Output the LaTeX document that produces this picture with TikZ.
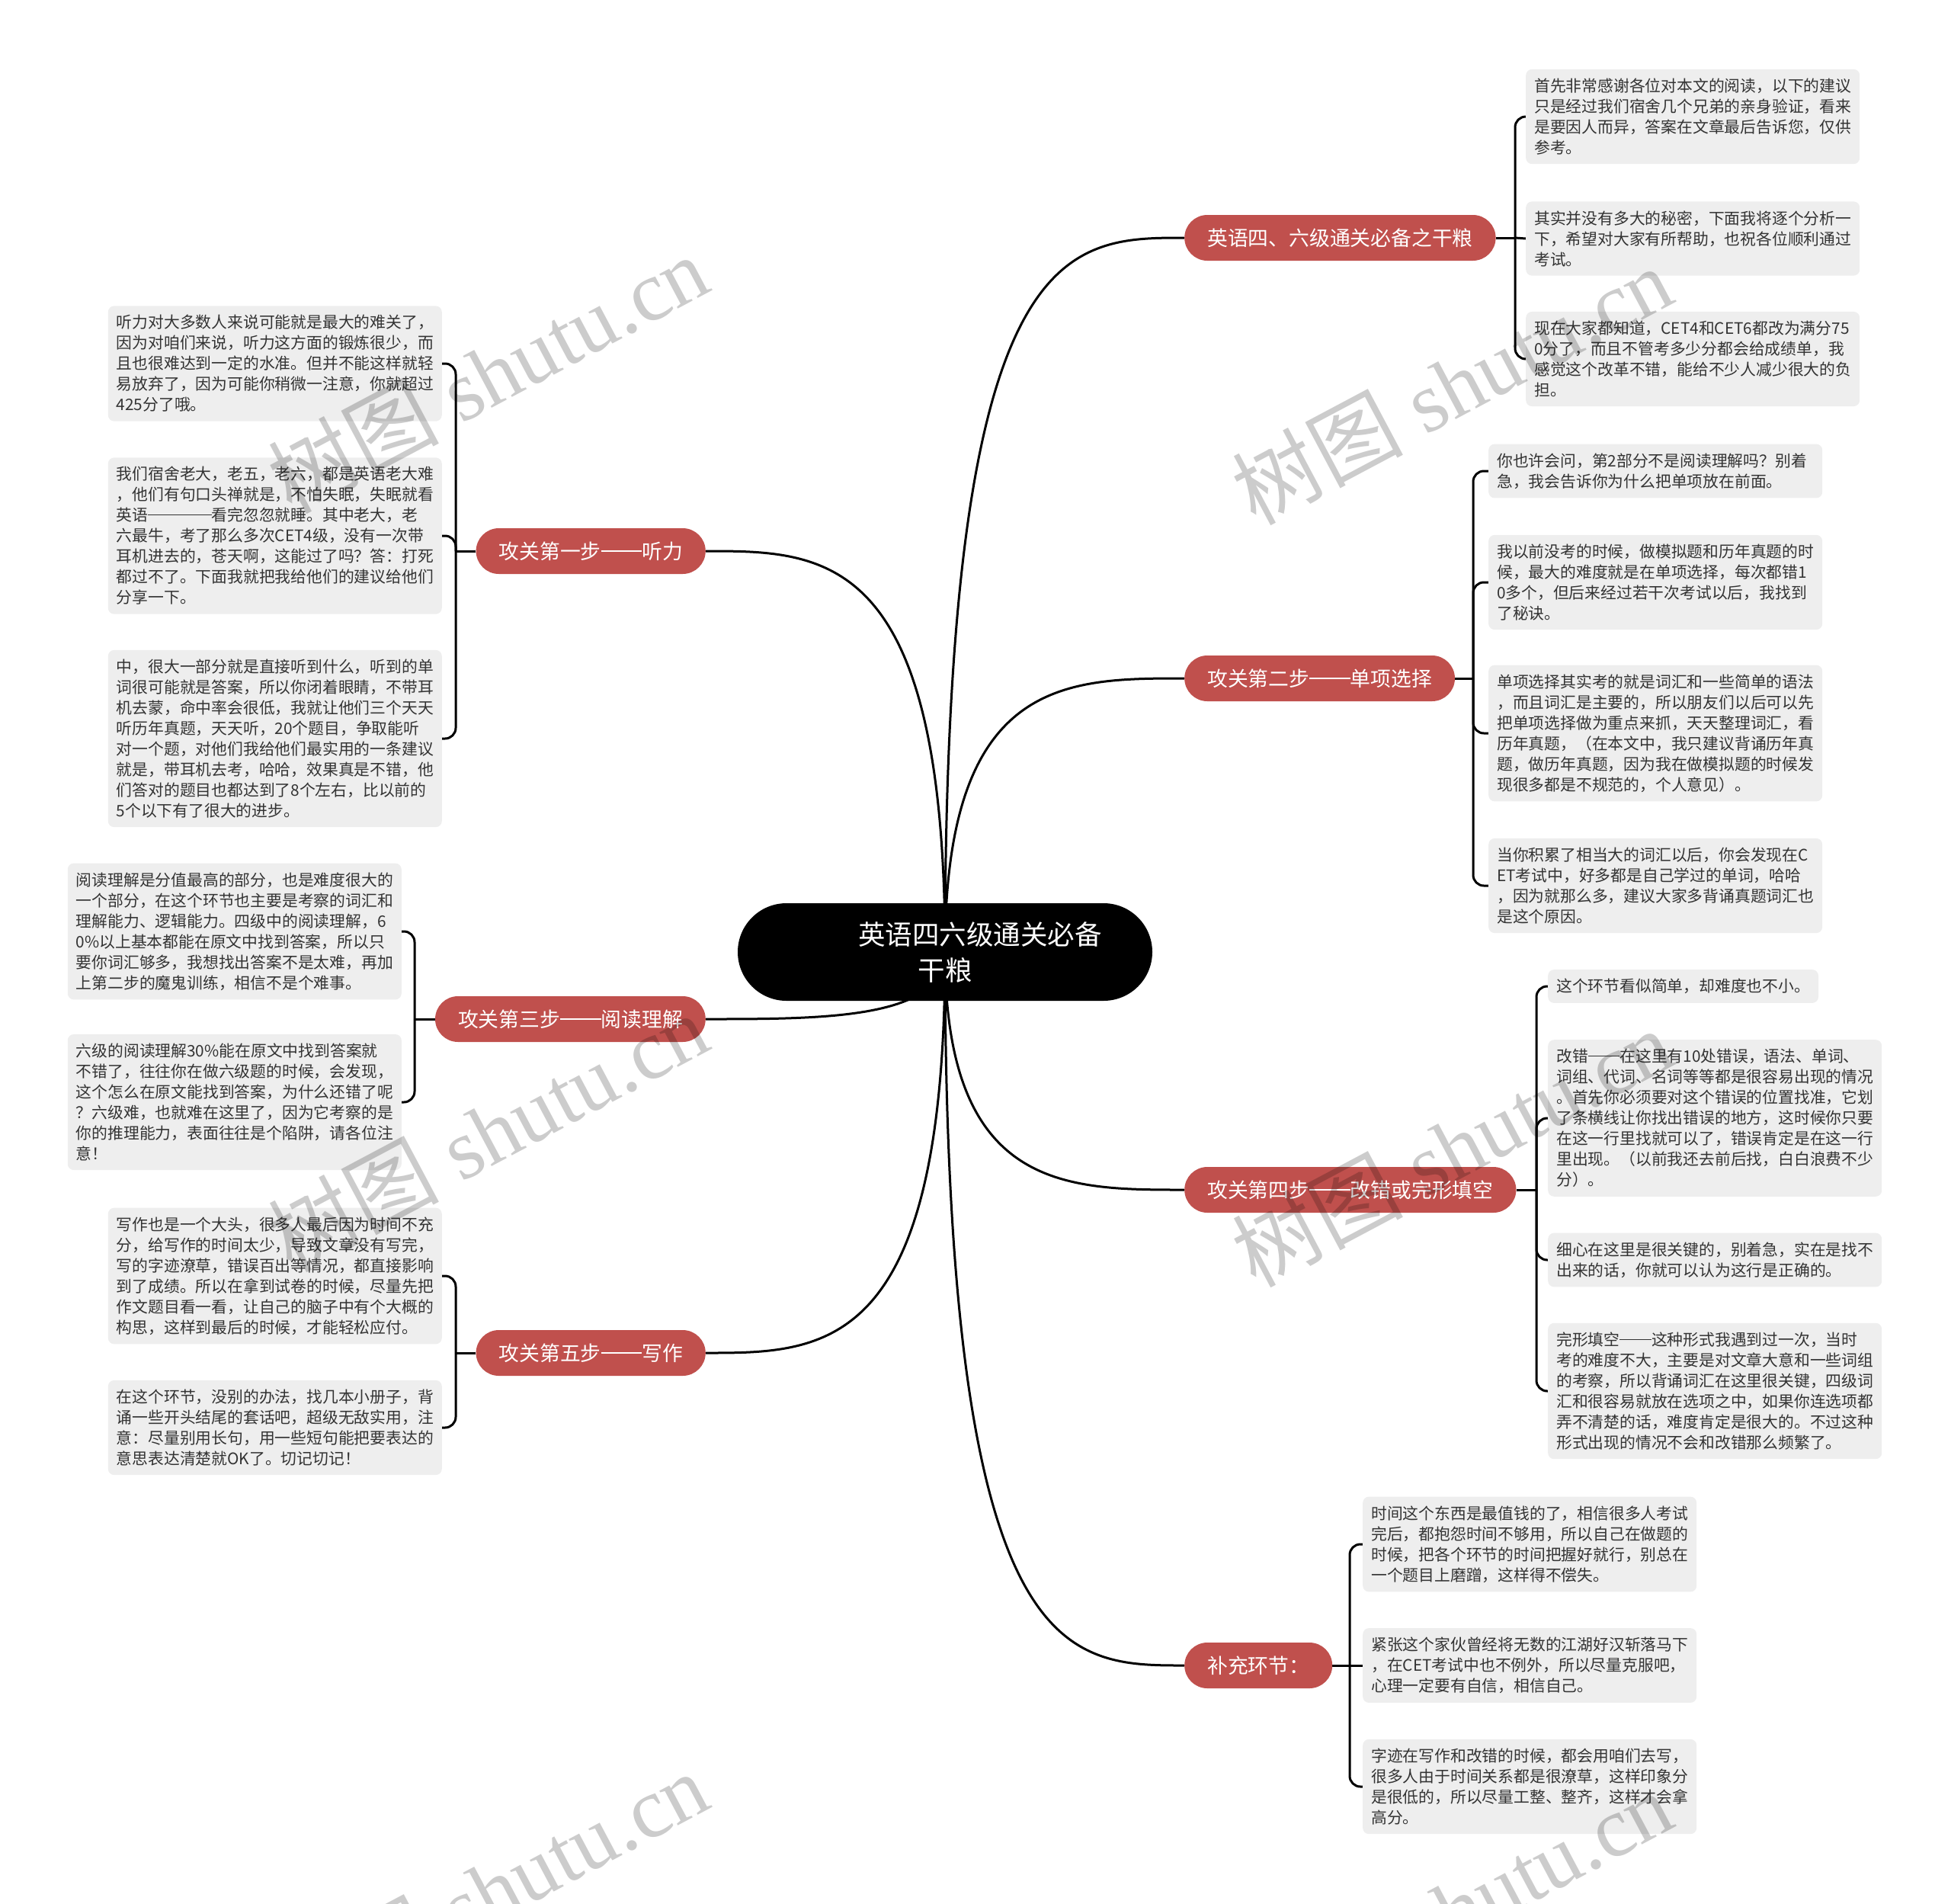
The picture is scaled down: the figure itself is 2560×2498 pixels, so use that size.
\documentclass[tikz,border=0pt]{standalone}
\usepackage{fontspec}
\newfontfamily\cjk{Noto Sans CJK SC}
\newfontfamily\wmserif{Liberation Serif}
\usetikzlibrary{backgrounds,calc}
\definecolor{branchred}{RGB}{192,80,77}
\definecolor{leafgray}{RGB}{238,238,238}
\definecolor{leaftext}{RGB}{51,51,51}
\newcommand\cjkdash[1]{\rule[0.36em]{#1em}{0.06em}}
\begin{document}
\begin{tikzpicture}[x=1pt,y=-1pt,
  rootbox/.style={fill=black, text=white, rounded corners=64pt, minimum width=544pt, minimum height=128pt, inner sep=0pt, align=center, font=\cjk\fontsize{35.5}{47}\selectfont},
  branchbox/.style={fill=branchred, text=white, rounded corners=30pt, minimum height=60pt, inner xsep=30pt, inner ysep=0pt, font=\cjk\fontsize{26.8}{32}\selectfont},
  leafbox/.style={fill=leafgray, text=leaftext, rounded corners=8pt, inner xsep=11pt, inner ysep=12pt, align=left, font=\cjk\fontsize{20.8}{27}\selectfont},
  wideleaf/.style={leafbox, text width=416pt},
  link/.style={line width=3pt, draw=black},
  bracket/.style={line width=3pt, draw=black, rounded corners=14pt},
  watermark/.style={text=black, text opacity=0.2, rotate=28, inner sep=0pt, font=\wmserif\fontsize{112}{112}\selectfont}
]
\useasboundingbox (0,0) rectangle (2560,2498);

% root
\node[rootbox] (root) at (1240,1249) {\hspace*{92pt}英语四六级通关必备\\干粮};

% branches
\node[branchbox, anchor=west] (b1) at (1554,312) {英语四、六级通关必备之干粮};
\node[branchbox, anchor=east] (b2) at (926,723) {攻关第一步\cjkdash{2}听力};
\node[branchbox, anchor=west] (b3) at (1554,890) {攻关第二步\cjkdash{2}单项选择};
\node[branchbox, anchor=east] (b4) at (926,1337) {攻关第三步\cjkdash{2}阅读理解};
\node[branchbox, anchor=west] (b5) at (1554,1561) {攻关第四步\cjkdash{2}改错或完形填空};
\node[branchbox, anchor=east] (b6) at (926,1775) {攻关第五步\cjkdash{2}写作};
\node[branchbox, anchor=west] (b7) at (1554,2185) {补充环节：};

% leaves of b1
\node[wideleaf, anchor=west] (l1a) at (2002,153) {首先非常感谢各位对本文的阅读，以下的建议\\只是经过我们宿舍几个兄弟的亲身验证，看来\\是要因人而异，答案在文章最后告诉您，仅供\\参考。};
\node[wideleaf, anchor=west] (l1b) at (2002,313) {其实并没有多大的秘密，下面我将逐个分析一\\下，希望对大家有所帮助，也祝各位顺利通过\\考试。};
\node[wideleaf, anchor=west] (l1c) at (2002,471) {现在大家都知道，CET4和CET6都改为满分75\\0分了，而且不管考多少分都会给成绩单，我\\感觉这个改革不错，能给不少人减少很大的负\\担。};

% leaves of b3
\node[wideleaf, anchor=west] (l3a) at (1953,618) {你也许会问，第2部分不是阅读理解吗？别着\\急，我会告诉你为什么把单项放在前面。};
\node[wideleaf, anchor=west] (l3b) at (1953,764) {我以前没考的时候，做模拟题和历年真题的时\\候，最大的难度就是在单项选择，每次都错1\\0多个，但后来经过若干次考试以后，我找到\\了秘诀。};
\node[wideleaf, anchor=west] (l3c) at (1953,962) {单项选择其实考的就是词汇和一些简单的语法\\，而且词汇是主要的，所以朋友们以后可以先\\把单项选择做为重点来抓，天天整理词汇，看\\历年真题，（在本文中，我只建议背诵历年真\\题，做历年真题，因为我在做模拟题的时候发\\现很多都是不规范的，个人意见）。};
\node[wideleaf, anchor=west] (l3d) at (1953,1162) {当你积累了相当大的词汇以后，你会发现在C\\ET考试中，好多都是自己学过的单词，哈哈\\，因为就那么多，建议大家多背诵真题词汇也\\是这个原因。};

% leaves of b5
\node[leafbox, anchor=west] (l5a) at (2031,1294) {这个环节看似简单，却难度也不小。};
\node[wideleaf, anchor=west] (l5b) at (2031,1467) {改错\cjkdash{2}在这里有10处错误，语法、单词、\\词组、代词、名词等等都是很容易出现的情况\\。首先你必须要对这个错误的位置找准，它划\\了条横线让你找出错误的地方，这时候你只要\\在这一行里找就可以了，错误肯定是在这一行\\里出现。（以前我还去前后找，白白浪费不少\\分）。};
\node[wideleaf, anchor=west] (l5c) at (2031,1653) {细心在这里是很关键的，别着急，实在是找不\\出来的话，你就可以认为这行是正确的。};
\node[wideleaf, anchor=west] (l5d) at (2031,1825) {完形填空\cjkdash{2}这种形式我遇到过一次，当时\\考的难度不大，主要是对文章大意和一些词组\\的考察，所以背诵词汇在这里很关键，四级词\\汇和很容易就放在选项之中，如果你连选项都\\弄不清楚的话，难度肯定是很大的。不过这种\\形式出现的情况不会和改错那么频繁了。};

% leaves of b7
\node[wideleaf, anchor=west] (l7a) at (1788,2026) {时间这个东西是最值钱的了，相信很多人考试\\完后，都抱怨时间不够用，所以自己在做题的\\时候，把各个环节的时间把握好就行，别总在\\一个题目上磨蹭，这样得不偿失。};
\node[wideleaf, anchor=west] (l7b) at (1788,2185) {紧张这个家伙曾经将无数的江湖好汉斩落马下\\，在CET考试中也不例外，所以尽量克服吧，\\心理一定要有自信，相信自己。};
\node[wideleaf, anchor=west] (l7c) at (1788,2344) {字迹在写作和改错的时候，都会用咱们去写，\\很多人由于时间关系都是很潦草，这样印象分\\是很低的，所以尽量工整、整齐，这样才会拿\\高分。};

% leaves of b2
\node[wideleaf, anchor=east] (l2a) at (580,477) {听力对大多数人来说可能就是最大的难关了，\\因为对咱们来说，听力这方面的锻炼很少，而\\且也很难达到一定的水准。但并不能这样就轻\\易放弃了，因为可能你稍微一注意，你就超过\\425分了哦。};
\node[wideleaf, anchor=east] (l2b) at (580,703) {我们宿舍老大，老五，老六，都是英语老大难\\，他们有句口头禅就是，不怕失眠，失眠就看\\英语\cjkdash{4}看完忽忽就睡。其中老大，老\\六最牛，考了那么多次CET4级，没有一次带\\耳机进去的，苍天啊，这能过了吗？答：打死\\都过不了。下面我就把我给他们的建议给他们\\分享一下。};
\node[wideleaf, anchor=east] (l2c) at (580,969) {中，很大一部分就是直接听到什么，听到的单\\词很可能就是答案，所以你闭着眼睛，不带耳\\机去蒙，命中率会很低，我就让他们三个天天\\听历年真题，天天听，20个题目，争取能听\\对一个题，对他们我给他们最实用的一条建议\\就是，带耳机去考，哈哈，效果真是不错，他\\们答对的题目也都达到了8个左右，比以前的\\5个以下有了很大的进步。};

% leaves of b4
\node[wideleaf, anchor=east] (l4a) at (527,1222) {阅读理解是分值最高的部分，也是难度很大的\\一个部分，在这个环节也主要是考察的词汇和\\理解能力、逻辑能力。四级中的阅读理解，6\\0\%以上基本都能在原文中找到答案，所以只\\要你词汇够多，我想找出答案不是太难，再加\\上第二步的魔鬼训练，相信不是个难事。};
\node[wideleaf, anchor=east] (l4b) at (527,1446) {六级的阅读理解30\%能在原文中找到答案就\\不错了，往往你在做六级题的时候，会发现，\\这个怎么在原文能找到答案，为什么还错了呢\\？六级难，也就难在这里了，因为它考察的是\\你的推理能力，表面往往是个陷阱，请各位注\\意！};

% leaves of b6
\node[wideleaf, anchor=east] (l6a) at (580,1674) {写作也是一个大头，很多人最后因为时间不充\\分，给写作的时间太少，导致文章没有写完，\\写的字迹潦草，错误百出等情况，都直接影响\\到了成绩。所以在拿到试卷的时候，尽量先把\\作文题目看一看，让自己的脑子中有个大概的\\构思，这样到最后的时候，才能轻松应付。};
\node[wideleaf, anchor=east] (l6b) at (580,1873) {在这个环节，没别的办法，找几本小册子，背\\诵一些开头结尾的套话吧，超级无敌实用，注\\意：尽量别用长句，用一些短句能把要表达的\\意思表达清楚就OK了。切记切记！};

% junctions
\coordinate (j1) at (1988,312);
\coordinate (j3) at (1933,890);
\coordinate (j5) at (2016,1561);
\coordinate (j7) at (1771,2185);
\coordinate (j2) at (598,723);
\coordinate (j4) at (544,1337);
\coordinate (j6) at (598,1775);

\begin{scope}[on background layer]
  % root to branches
  \foreach \b/\a in {b1/west,b3/west,b5/west,b7/west,b2/east,b4/east,b6/east}{
    \draw[link] (root.center) .. controls (root.center |- \b.\a) and ($(root.center |- \b.\a)!0.5!(\b.\a)$) .. (\b.\a);
  }
  % brackets right
  \draw[link] (b1.east) -- (j1);
  \draw[bracket] (j1) |- (l1a.west);
  \draw[link] (j1) -- (l1b.west);
  \draw[bracket] (j1) |- (l1c.west);
  \draw[link] (b3.east) -- (j3);
  \draw[bracket] (j3) |- (l3a.west);
  \draw[bracket] (j3) |- (l3b.west);
  \draw[bracket] (j3) |- (l3c.west);
  \draw[bracket] (j3) |- (l3d.west);
  \draw[link] (b5.east) -- (j5);
  \draw[bracket] (j5) |- (l5a.west);
  \draw[bracket] (j5) |- (l5b.west);
  \draw[bracket] (j5) |- (l5c.west);
  \draw[bracket] (j5) |- (l5d.west);
  \draw[link] (b7.east) -- (j7);
  \draw[bracket] (j7) |- (l7a.west);
  \draw[link] (j7) -- (l7b.west);
  \draw[bracket] (j7) |- (l7c.west);
  % brackets left
  \draw[link] (b2.west) -- (j2);
  \draw[bracket] (j2) |- (l2a.east);
  \draw[bracket] (j2) |- (l2b.east);
  \draw[bracket] (j2) |- (l2c.east);
  \draw[link] (b4.west) -- (j4);
  \draw[bracket] (j4) |- (l4a.east);
  \draw[bracket] (j4) |- (l4b.east);
  \draw[link] (b6.west) -- (j6);
  \draw[bracket] (j6) |- (l6a.east);
  \draw[bracket] (j6) |- (l6b.east);
\end{scope}

% watermarks
\node[watermark] (w1) at (640,490) {{\cjk 树图} shutu.cn};
\node[watermark] (w2) at (1905,505) {{\cjk 树图} shutu.cn};
\node[watermark] (w3) at (640,1485) {{\cjk 树图} shutu.cn};
\node[watermark] (w4) at (1905,1505) {{\cjk 树图} shutu.cn};
\node[watermark] (w5) at (640,2480) {{\cjk 树图} shutu.cn};
\node[watermark] (w6) at (1905,2505) {{\cjk 树图} shutu.cn};
\end{tikzpicture}
\end{document}
